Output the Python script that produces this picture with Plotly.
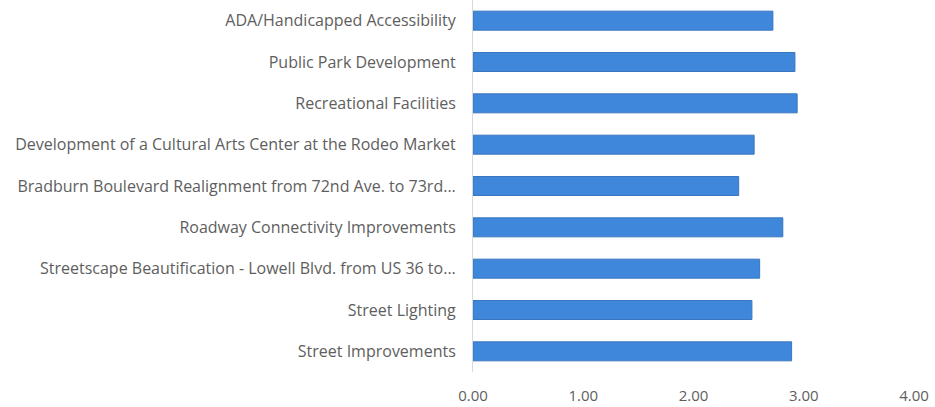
import plotly.graph_objects as go

categories = [
    "ADA/Handicapped Accessibility",
    "Public Park Development",
    "Recreational Facilities",
    "Development of a Cultural Arts Center at the Rodeo Market",
    "Bradburn Boulevard Realignment from 72nd Ave. to 73rd...",
    "Roadway Connectivity Improvements",
    "Streetscape Beautification - Lowell Blvd. from US 36 to...",
    "Street Lighting",
    "Street Improvements",
]
values = [2.72, 2.92, 2.94, 2.55, 2.41, 2.81, 2.60, 2.53, 2.89]
x_ticks = [0, 1, 2, 3, 4]

fig = go.Figure(go.Bar(
    y=categories,
    x=values,
    orientation="h",
    marker=dict(color="#3F87DA", line=dict(color="#3A76BE", width=1)),
))

fig.update_layout(
    width=935, height=407,
    margin=dict(l=473, r=21, t=0, b=35),
    paper_bgcolor="white", plot_bgcolor="white",
    bargap=0.54,
    showlegend=False,
    font=dict(family="Open Sans", size=16, color="#5E5E5E"),
    xaxis=dict(range=[0, 4], tickvals=x_ticks, tickformat=".2f",
               showgrid=False, zeroline=False, showline=False,
               tickfont=dict(size=15, color="#5E5E5E"), ticklabelstandoff=13),
    yaxis=dict(categoryorder="array", categoryarray=categories, autorange="reversed",
               showgrid=False, zeroline=False, showline=True, linecolor="#D9D9D9", linewidth=1,
               ticklabelstandoff=13, tickfont=dict(size=16, color="#5E5E5E")),
)

fig.write_html("out.html")
